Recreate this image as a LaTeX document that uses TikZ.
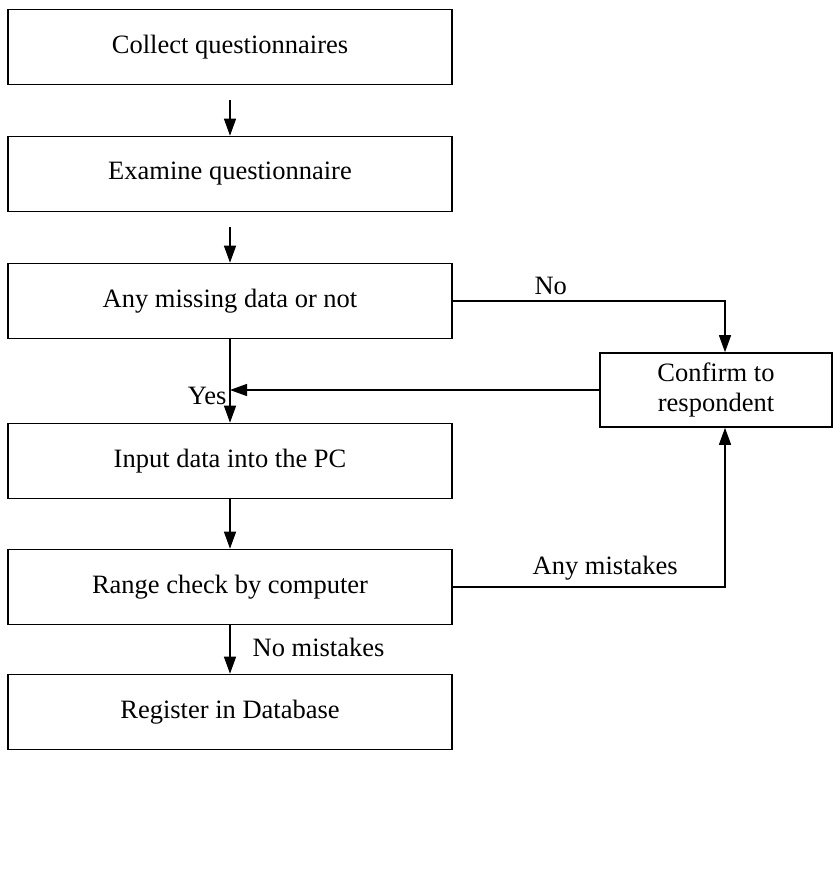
\documentclass[tikz,border=0pt]{standalone}
\usepackage{fontspec}
\setmainfont{Liberation Serif}
\usetikzlibrary{arrows.meta,calc}

\begin{document}
\begin{tikzpicture}[x=1pt,y=-1pt,
  txt/.style={font=\fontsize{26.5}{30}\selectfont},
  box/.style={txt,draw,line width=1.6pt,minimum width=444pt,minimum height=75pt,inner sep=0pt},
  sidebox/.style={txt,draw,line width=1.6pt,minimum width=232pt,minimum height=74pt,inner sep=0pt,align=center},
  conn/.style={line width=1.3pt,-{Triangle[length=17pt,width=12pt]}},
  lbl/.style={txt,inner sep=2pt}]
  \useasboundingbox (0,0) rectangle (839,872);

  % main column
  \node[box] (collect)  at (230,47)  {Collect questionnaires};
  \node[box] (examine)  at (230,174) {Examine questionnaire};
  \node[box] (missing)  at (230,301) {Any missing data or not};
  \node[box] (input)    at (230,461) {Input data into the PC};
  \node[box] (range)    at (230,587) {Range check by computer};
  \node[box] (register) at (230,712) {Register in Database};

  % side box
  \node[sidebox] (confirm) at (716,390) {Confirm to\\respondent};
  \coordinate (ctop) at ([xshift=9pt]confirm.north);
  \coordinate (cbot) at ([xshift=9pt]confirm.south);
  \coordinate (yesend) at (confirm.west -| missing.south);

  % vertical flow
  \draw[conn,shorten <=15pt] (collect) -- (examine);
  \draw[conn,shorten <=15pt] (examine) -- (missing);
  \draw[conn] (missing) -- (input);
  \draw[conn] (input) -- (range);
  \draw[conn] (range) -- node[lbl,anchor=west,xshift=20pt,yshift=2pt]{No mistakes} (register);

  % branches to and from the confirmation step
  \draw[conn] (missing.east) -| node[lbl,pos=0.18,anchor=south,yshift=4pt]{No} (ctop);
  \draw[conn] (confirm.west) -- (yesend)
    node[lbl,pos=1,anchor=east,xshift=-1pt,yshift=-6pt]{Yes};
  \draw[conn] (range.east) -| node[lbl,pos=0.28,anchor=south,yshift=4pt]{Any mistakes} (cbot);
\end{tikzpicture}
\end{document}
